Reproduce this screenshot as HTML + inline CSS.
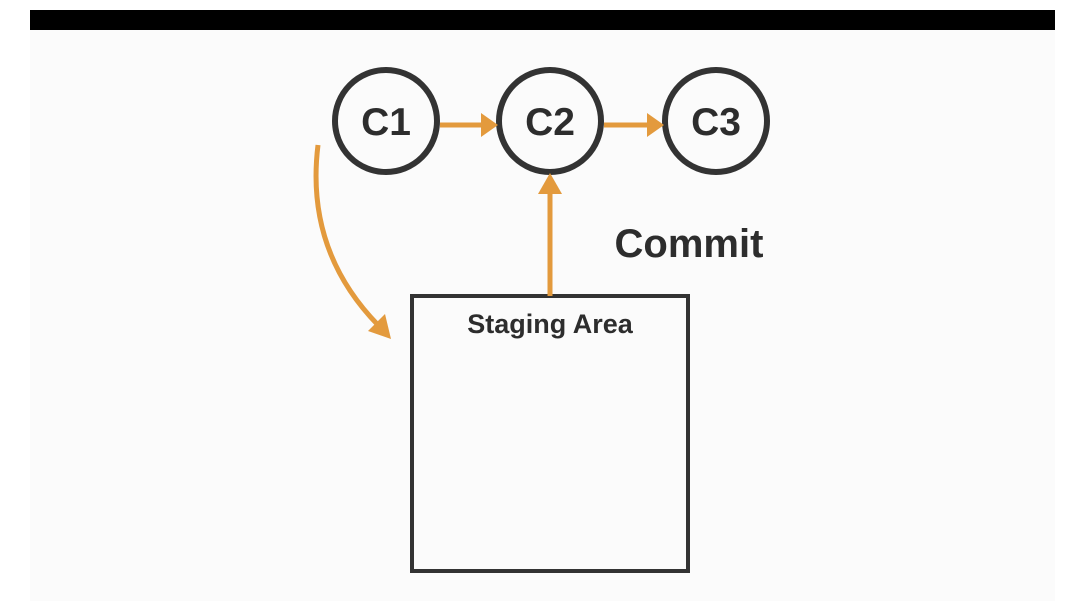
<!DOCTYPE html>
<html><head><style>
html,body{margin:0;padding:0;background:#fff;}
svg{display:block}
</style></head><body>
<svg width="1078" height="601" xmlns="http://www.w3.org/2000/svg">
<rect x="30" y="30" width="1025" height="571" fill="#fbfbfb"/>
<rect x="30" y="10" width="1025" height="20" fill="#000"/>
<g fill="none" stroke="#333" stroke-width="6">
<circle cx="386" cy="121" r="51"/>
<circle cx="550" cy="121" r="51"/>
<circle cx="716" cy="121" r="51"/>
<rect x="412" y="296" width="276" height="275" stroke-width="4"/>
</g>
<g font-family="'Liberation Sans',sans-serif" font-weight="bold" fill="#2d2d2d" text-anchor="middle">
<text x="386" y="135" font-size="39">C1</text>
<text x="550" y="135" font-size="39">C2</text>
<text x="716" y="135" font-size="39">C3</text>
<text x="550" y="333" font-size="27">Staging Area</text>
<text x="689" y="257" font-size="40">Commit</text>
</g>
<g stroke="#e39a3d" stroke-width="5" fill="none">
<line x1="440" y1="125" x2="484" y2="125"/>
<line x1="604" y1="125" x2="650" y2="125"/>
<line x1="550" y1="296" x2="550" y2="190"/>
<path d="M318 145 Q305 250 378 325"/>
</g>
<g fill="#e39a3d">
<polygon points="481,113 498,125 481,137"/>
<polygon points="647,113 664,125 647,137"/>
<polygon points="538,194 550,173 562,194"/>
<polygon points="368,331 385,314 391,339"/>
</g>
</svg>
</body></html>
